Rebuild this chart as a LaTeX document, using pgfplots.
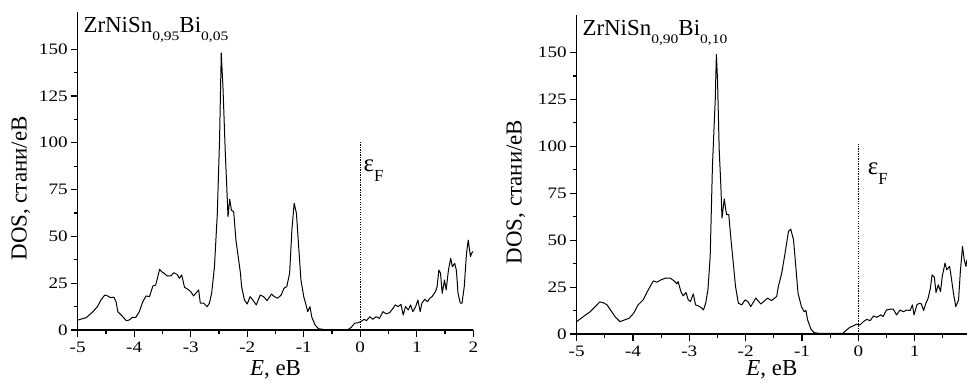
\documentclass[border=0pt]{standalone}
\usepackage{fontspec}
\setmainfont{Liberation Serif}
\newfontfamily\tickfont[FakeStretch=1.2]{Liberation Serif}
\newfontfamily\subfont[FakeStretch=1.2]{Liberation Serif}
\usepackage{pgfplots}
\pgfplotsset{compat=1.18}
\newcommand{\sub}[1]{\raisebox{-8bp}{\subfont\fontsize{13}{13}\selectfont #1}}
\pgfplotsset{
  dosaxis/.style={
    scale only axis,
    axis x line*=bottom, axis y line*=left,
    xmin=-5, ymin=0, ymax=170,
    xtick={-5,-4,-3,-2,-1,0,1,2},
    xticklabels={-5,-4,-3,-2,-1,0,1,2},
    ytick={0,25,50,75,100,125,150},
    yticklabels={0,25,50,75,100,125,150},
    minor x tick num=1, minor y tick num=1,
    tick align=outside,
    major tick length=6.5bp, minor tick length=3.5bp,
    every tick/.style={black, line width=1.1pt},
    axis line style={black, line width=1.3pt},
    ticklabel style={font=\tickfont\fontsize{16}{16}\selectfont},
    xticklabel style={yshift=-2bp},
    xlabel={\textit{E}, eB},
    ylabel={DOS, стани/еВ},
    label style={font=\fontsize{23}{23}\selectfont},
  },
  curve/.style={black, line width=1pt, line join=round},
  fermi/.style={black, line width=0.8pt, dash pattern=on 1.2pt off 1.3pt},
}
\begin{document}
\begin{tikzpicture}
\path[use as bounding box] (0,0) rectangle (967bp,389bp);
% ---------------- left panel ----------------
\begin{axis}[dosaxis,
  at={(77.7bp,59bp)}, anchor=south west,
  width=395.6bp, height=318.3bp, xmax=2,
  xlabel style={at={(axis description cs:0.5,0)}, yshift=-40bp, anchor=center},
  ylabel style={at={([xshift=-57bp]axis description cs:0,0.445)}, anchor=center},
]
\addplot[curve] coordinates {
(-5,5.3)(-4.85,6.6)(-4.73,9.8)(-4.65,12.5)(-4.59,16)(-4.52,18.7)(-4.47,18.2)(-4.42,17.3)(-4.36,17.5)(-4.32,15)(-4.29,9.8)(-4.23,8)(-4.14,5)(-4.09,5.3)(-4.03,6.8)(-3.97,6.8)(-3.91,9.8)(-3.85,15)(-3.79,18.2)(-3.73,17.8)(-3.67,23.5)(-3.62,24)(-3.55,32.4)(-3.51,31)(-3.47,30.3)(-3.42,28.9)(-3.35,28.9)(-3.30,30.6)(-3.24,29.7)(-3.20,27.6)(-3.16,29.4)(-3.11,22.8)(-3.05,21.7)(-3.0,20.5)(-2.95,18.2)(-2.91,19.6)(-2.86,21.4)(-2.83,14.3)(-2.77,14.3)(-2.71,12.5)(-2.67,14.3)(-2.63,19.6)(-2.58,33.8)(-2.53,62)(-2.49,101.5)(-2.46,148)(-2.43,130)(-2.39,96)(-2.34,60.6)(-2.31,69.8)(-2.28,64)(-2.24,63.2)(-2.20,48)(-2.16,39.2)(-2.12,30.3)(-2.10,23.2)(-2.05,16)(-2.00,13.9)(-1.95,17.8)(-1.90,16)(-1.84,13.4)(-1.77,18.7)(-1.71,17.8)(-1.65,15.7)(-1.57,19.2)(-1.52,17.8)(-1.46,17)(-1.40,18.7)(-1.35,22.3)(-1.30,23.2)(-1.25,30.3)(-1.21,53.4)(-1.17,67.7)(-1.13,62.4)(-1.09,44.5)(-1.05,26.7)(-1.00,17.8)(-0.96,13.4)(-0.93,9.8)(-0.89,12.5)(-0.86,7.1)(-0.80,2.7)(-0.74,0.7)(-0.63,0.2)(-0.22,0.2)(-0.16,1.4)(-0.10,3.6)(-0.04,3.9)(0.01,4.5)(0.07,5.7)(0.11,5)(0.17,7.1)(0.22,5.7)(0.28,7.1)(0.34,6.2)(0.40,9.8)(0.46,8.6)(0.52,9.3)(0.58,11.6)(0.62,13.4)(0.67,12.5)(0.72,13.7)(0.76,8)(0.80,12.5)(0.85,10.7)(0.89,13.4)(0.93,9.8)(0.98,12.5)(1.02,16)(1.06,9.8)(1.09,14.3)(1.14,16.4)(1.19,15.1)(1.23,17)(1.27,17.8)(1.33,20.5)(1.36,23.2)(1.39,32)(1.42,30.3)(1.45,19.6)(1.49,26.7)(1.52,21.4)(1.56,32)(1.60,38.3)(1.63,33.8)(1.67,35.6)(1.70,32)(1.73,19.6)(1.77,14.3)(1.80,14.3)(1.84,23.2)(1.88,41)(1.91,48)(1.95,39.2)(1.97,41)(2.00,42)
};
\addplot[fermi] coordinates {(0,0) (0,101)};
\node[anchor=base west, inner sep=0pt] at (axis cs:0.055,84.6)
  {\fontsize{25}{25}\selectfont ε\raisebox{-10bp}{\fontsize{17}{17}\selectfont F}};
\node[anchor=base west, inner sep=0pt, font=\fontsize{23}{23}\selectfont]
  at (axis cs:-4.9,159) {ZrNiSn\sub{0,95}Bi\sub{0,05}};
\end{axis}
% ---------------- right panel ----------------
\begin{axis}[dosaxis,
  at={(576.7bp,55bp)}, anchor=south west,
  width=390.3bp, height=319bp, xmax=1.93,
  xlabel style={at={(axis description cs:0.5,0)}, yshift=-36bp, anchor=center},
  ylabel style={at={([xshift=-61bp]axis description cs:0,0.445)}, anchor=center},
]
\addplot[curve] coordinates {
(-5,6.6)(-4.88,9.3)(-4.76,11.9)(-4.67,14.6)(-4.59,17.1)(-4.53,16.7)(-4.46,15.5)(-4.38,11.9)(-4.31,8.9)(-4.23,6.6)(-4.15,7.5)(-4.07,8.4)(-3.99,11)(-3.91,15.5)(-3.82,18.2)(-3.73,23.5)(-3.64,28.3)(-3.58,27.6)(-3.50,28.9)(-3.42,29.8)(-3.34,29.8)(-3.28,28.5)(-3.22,26.7)(-3.20,28)(-3.15,22.6)(-3.11,20.3)(-3.06,22.1)(-3.02,18.2)(-2.98,17.3)(-2.93,21.4)(-2.89,15.5)(-2.84,15)(-2.79,14.1)(-2.75,12.8)(-2.71,16.4)(-2.67,23.5)(-2.63,41.3)(-2.59,89.4)(-2.54,125)(-2.52,149)(-2.50,135.8)(-2.47,98.3)(-2.44,78.7)(-2.42,61.8)(-2.38,72)(-2.34,63.6)(-2.30,63.6)(-2.26,50.2)(-2.22,37.8)(-2.18,25.3)(-2.13,16.4)(-2.07,15.5)(-2.01,18.2)(-1.96,17.3)(-1.91,14.6)(-1.82,19.1)(-1.73,16)(-1.61,19.1)(-1.54,17.8)(-1.45,20)(-1.42,25.3)(-1.36,32.4)(-1.30,43.1)(-1.24,54.7)(-1.20,55.9)(-1.15,50.2)(-1.11,36)(-1.07,21.7)(-1.01,14.6)(-0.96,11.9)(-0.93,12.5)(-0.90,7.5)(-0.84,2.5)(-0.78,0.7)(-0.71,0.4)(-0.27,0.4)(-0.21,2.1)(-0.15,3.6)(-0.09,4.3)(-0.03,5.3)(0.03,4.8)(0.09,6.6)(0.15,7.8)(0.21,7.1)(0.27,9.6)(0.33,8.9)(0.40,10.2)(0.44,9.3)(0.50,12.8)(0.56,13.2)(0.62,13.2)(0.68,10.2)(0.74,12.8)(0.80,11.9)(0.86,12.8)(0.92,12.5)(0.96,15.5)(0.99,10.2)(1.04,15.5)(1.08,16.4)(1.12,16)(1.16,12.5)(1.20,16.4)(1.24,19.1)(1.28,24.4)(1.31,31.5)(1.35,30.3)(1.38,22.1)(1.42,26.2)(1.46,22.6)(1.49,30.6)(1.54,37.8)(1.57,34.2)(1.62,36)(1.64,32.4)(1.69,21.7)(1.73,14.6)(1.78,18.2)(1.81,32.4)(1.85,46.7)(1.88,39.6)(1.91,36)(1.93,39.6)
};
\addplot[fermi] coordinates {(0,0) (0,101.5)};
\node[anchor=base west, inner sep=0pt] at (axis cs:0.166,85)
  {\fontsize{25}{25}\selectfont ε\raisebox{-10bp}{\fontsize{17}{17}\selectfont F}};
\node[anchor=base west, inner sep=0pt, font=\fontsize{23}{23}\selectfont]
  at (axis cs:-4.9,159) {ZrNiSn\sub{0,90}Bi\sub{0,10}};
\end{axis}
\end{tikzpicture}
\end{document}
